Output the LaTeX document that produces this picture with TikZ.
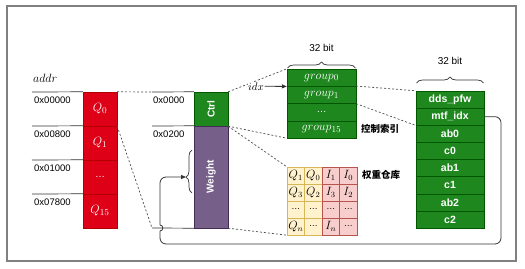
\documentclass[tikz,border=0pt]{standalone}
\usepackage{fontspec}
\setmainfont{Liberation Sans}
\newfontfamily\cjk{Noto Sans CJK SC}
\usetikzlibrary{arrows.meta,decorations.pathreplacing}
\definecolor{redF}{HTML}{DD0016}
\definecolor{redS}{HTML}{B20000}
\definecolor{grnF}{HTML}{1E881E}
\definecolor{grnS}{HTML}{005700}
\definecolor{purF}{HTML}{76608A}
\definecolor{purS}{HTML}{432D57}
\definecolor{yelF}{HTML}{FFF2CC}
\definecolor{yelS}{HTML}{D6B656}
\definecolor{pinkF}{HTML}{F8CECC}
\definecolor{pinkS}{HTML}{B85450}
\definecolor{lineC}{HTML}{333333}
\begin{document}
\begin{tikzpicture}[x=1pt,y=-1pt,
  frame/.style={draw=gray, line width=1.5pt},
  redbox/.style={draw=redS, fill=redF, minimum width=34pt, minimum height=34pt, inner sep=0pt, text=white, font=\fontsize{13}{15}\selectfont},
  grnbox/.style={draw=grnS, fill=grnF, inner sep=0pt, text=white},
  gbox/.style={grnbox, minimum width=69pt, minimum height=17.25pt, font=\fontsize{12.5}{14}\selectfont},
  rbox/.style={grnbox, minimum width=68pt, minimum height=17.125pt, font=\fontsize{10.5}{12}\selectfont\bfseries},
  ycell/.style={draw=yelS, fill=yelF, minimum width=17.5pt, minimum height=17pt, inner sep=0pt, font=\fontsize{12}{14}\selectfont},
  pcell/.style={draw=pinkS, fill=pinkF, minimum width=17.5pt, minimum height=17pt, inner sep=0pt, font=\fontsize{12}{14}\selectfont},
  addrtxt/.style={anchor=west, inner sep=0pt, font=\fontsize{9.5}{11}\selectfont},
  addrline/.style={draw=lineC, line width=0.7pt},
  dashln/.style={draw=gray!60!black, line width=0.7pt, dash pattern=on 2pt off 2pt},
  bittxt/.style={inner sep=0pt, font=\fontsize{10}{12}\selectfont},
  cjktxt/.style={anchor=west, inner sep=0pt, font=\fontsize{9.5}{11}\selectfont\cjk\bfseries},
  bracestyle/.style={draw=lineC, line width=0.7pt, decorate},
  conn/.style={draw=lineC, line width=0.8pt}
]
\useasboundingbox (0,0) rectangle (525,268);
\draw[frame] (7,6) rectangle (516,261);

% red column
\node[redbox] (q0) at (100,109) {$Q_{0}$};
\node[redbox] (q1) at (100,143) {$Q_{1}$};
\node[redbox] (q2) at (100,177) {\fontsize{10}{12}\selectfont\ldots};
\node[redbox] (q3) at (100,211) {$Q_{15}$};
\node[anchor=west, inner sep=0pt, font=\fontsize{12}{14}\selectfont] (addr) at (33,78) {$addr$};
\coordinate (l0) at (32,92);
\coordinate (l1) at (32,126);
\coordinate (l2) at (32,160);
\coordinate (l3) at (32,194);
\draw[addrline] (l0) -- (q0.north west);
\draw[addrline] (l1) -- (q1.north west);
\draw[addrline] (l2) -- (q2.north west);
\draw[addrline] (l3) -- (q3.north west);
\node[addrtxt] (a0) at (34,100) {0x00000};
\node[addrtxt] (a1) at (34,134) {0x00800};
\node[addrtxt] (a2) at (34,168) {0x01000};
\node[addrtxt] (a3) at (34,202) {0x07800};

% ctrl / weight
\node[grnbox, minimum width=34pt, minimum height=34pt, font=\fontsize{10}{12}\selectfont\bfseries] (ctrl) at (211,109) {\rotatebox{90}{Ctrl}};
\node[draw=purS, fill=purF, minimum width=34pt, minimum height=102pt, inner sep=0pt, text=white, font=\fontsize{10}{12}\selectfont\bfseries] (wt) at (211,177) {\rotatebox{90}{Weight}};
\coordinate (m0) at (152,92);
\coordinate (m1) at (152,126);
\coordinate (m2) at (152,228);
\draw[addrline] (m0) -- (ctrl.north west);
\draw[addrline] (m1) -- (wt.north west);
\draw[addrline] (m2) -- (wt.south west);
\node[addrtxt] (b0) at (153,100) {0x0000};
\node[addrtxt] (b1) at (153,134) {0x0200};
\draw[dashln] (q0.north east) -- (m0);
\draw[dashln] (q0.south east) -- (m2);

% group table
\node[gbox] (g0) at (321.5,77.625) {$group_{0}$};
\node[gbox] (g1) at (321.5,94.875) {$group_{1}$};
\node[gbox] (g2) at (321.5,112.125) {\fontsize{10}{12}\selectfont\ldots};
\node[gbox] (g3) at (321.5,129.375) {$group_{15}$};
\draw[bracestyle, decoration={brace, amplitude=6pt}] (287.5,68) -- (355.5,68);
\node[bittxt] (bit1) at (321.5,48) {32 bit};
\node[cjktxt] (ctl) at (361,129) {控制索引};

\draw[dashln] (ctrl.north east) -- (g0.north west);
\node[fill=white, inner sep=0.5pt, font=\fontsize{11}{13}\selectfont] (idx) at (256,86.25) {$idx$};
\draw[conn, -{Triangle[length=5pt, width=4pt]}] (idx.east) -- (g0.south west);
\draw[dashln] (ctrl.south east) -- (g3.south west);

% weight table
\node[ycell] (c11) at (295.75,175.5) {$Q_{1}$};
\node[ycell] (c12) at (313.25,175.5) {$Q_{0}$};
\node[pcell] (c13) at (330.75,175.5) {$I_{1}$};
\node[pcell] (c14) at (348.25,175.5) {$I_{0}$};
\node[ycell] (c21) at (295.75,192.5) {$Q_{3}$};
\node[ycell] (c22) at (313.25,192.5) {$Q_{2}$};
\node[pcell] (c23) at (330.75,192.5) {$I_{3}$};
\node[pcell] (c24) at (348.25,192.5) {$I_{2}$};
\node[ycell, font=\fontsize{9}{11}\selectfont] (c31) at (295.75,209.5) {\ldots};
\node[ycell, font=\fontsize{9}{11}\selectfont] (c32) at (313.25,209.5) {\ldots};
\node[pcell, font=\fontsize{9}{11}\selectfont] (c33) at (330.75,209.5) {\ldots};
\node[pcell, font=\fontsize{9}{11}\selectfont] (c34) at (348.25,209.5) {\ldots};
\node[ycell] (c41) at (295.75,226.5) {$Q_{n}$};
\node[ycell, font=\fontsize{9}{11}\selectfont] (c42) at (313.25,226.5) {\ldots};
\node[pcell] (c43) at (330.75,226.5) {$I_{n}$};
\node[pcell, font=\fontsize{9}{11}\selectfont] (c44) at (348.25,226.5) {\ldots};
\node[cjktxt] (wrh) at (362,175) {权重仓库};
\draw[dashln] (ctrl.south east) -- (c11.north west);
\draw[dashln] (wt.south east) -- (c41.south west);

% right table
\node[rbox] (r1) at (450,99.5625) {dds\_pfw};
\node[rbox] (r2) at (450,116.6875) {mtf\_idx};
\node[rbox] (r3) at (450,133.8125) {ab0};
\node[rbox] (r4) at (450,150.9375) {c0};
\node[rbox] (r5) at (450,168.0625) {ab1};
\node[rbox] (r6) at (450,185.1875) {c1};
\node[rbox] (r7) at (450,202.3125) {ab2};
\node[rbox] (r8) at (450,219.4375) {c2};
\draw[bracestyle, decoration={brace, amplitude=6pt}] (416.5,83) -- (483.5,83);
\node[bittxt] (bit2) at (450,61) {32 bit};
\draw[dashln] (g1.north east) -- (r1.north west);
\draw[dashln] (g1.south east) -- (r2.south west);

% weight brace and loop
\draw[bracestyle, decoration={brace, amplitude=6pt, aspect=0.37}] (192,193) -- (192,150);
\coordinate (tip) at (186,177);
\draw[conn, rounded corners=6pt] (r2.east) -- (501,116.6875) -- (501,244) -- (160,244) -- (160,231);
\draw[conn] (160,231) to[out=0, in=0, looseness=1.6] (160,225);
\draw[conn, rounded corners=6pt, -{Triangle[length=5pt, width=4pt]}] (160,225) -- (160,177) -- (tip);
\end{tikzpicture}
\end{document}
